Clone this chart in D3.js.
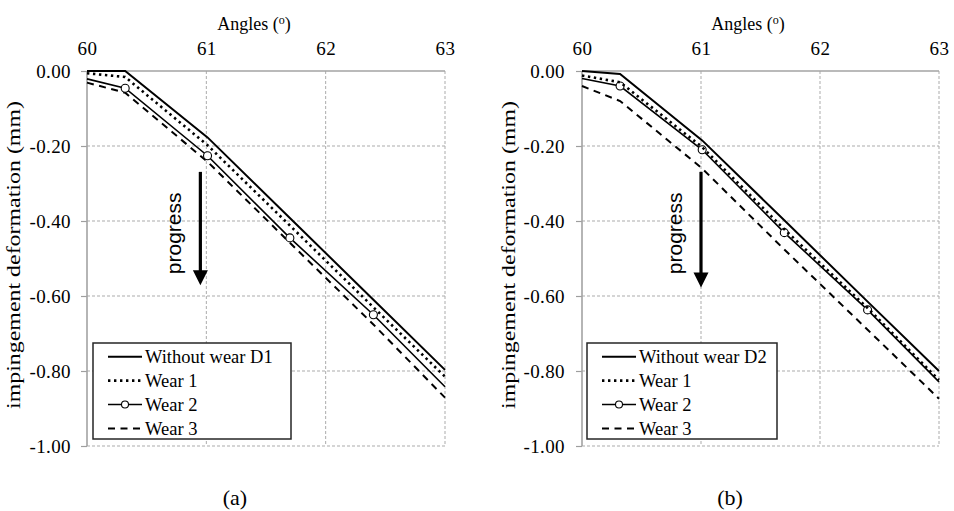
<!DOCTYPE html>
<html>
<head>
<meta charset="utf-8">
<script src="https://cdn.jsdelivr.net/npm/d3@7"></script>
<style>
  html, body { margin: 0; padding: 0; background: #fff; }
  svg { display: block; }
</style>
</head>
<body>
<svg id="chart" width="954" height="511" font-family="Liberation Serif, Times New Roman, serif"></svg>
<script>
// Angle samples (degrees) shared by every series
const angles = [60, 60.32, 61.01, 61.70, 62.40, 63];
// Angles where the "Wear 2" series carries a circle marker
const markedAngles = [60.32, 61.01, 61.70, 62.40];

const xTicks = [60, 61, 62, 63];
const yTicks = [0, -0.2, -0.4, -0.6, -0.8, -1.0];

// Panel (a): deformation in mm
const withoutWearD1 = [0.000, 0.000, -0.177, -0.392, -0.610, -0.797];
const wear1A = [-0.006, -0.016, -0.198, -0.412, -0.630, -0.815];
const wear2A = [-0.021, -0.046, -0.226, -0.445, -0.650, -0.842];
const wear3A = [-0.031, -0.058, -0.242, -0.458, -0.676, -0.871];

// Panel (b): deformation in mm
const withoutWearD2 = [0.000, -0.008, -0.185, -0.398, -0.615, -0.800];
const wear1B = [-0.012, -0.030, -0.203, -0.422, -0.632, -0.824];
const wear2B = [-0.020, -0.040, -0.210, -0.431, -0.637, -0.829];
const wear3B = [-0.040, -0.080, -0.260, -0.476, -0.690, -0.874];

const legendA = ["Without wear D1", "Wear 1", "Wear 2", "Wear 3"];
const legendB = ["Without wear D2", "Wear 1", "Wear 2", "Wear 3"];

// "progress" arrow, in data units: [angle, start, end]
const arrowA = [60.95, -0.269, -0.571];
const arrowB = [61.00, -0.269, -0.577];

const svg = d3.select("#chart");

// Line styles per series (same order as legend entries)
const styles = [
  { dash: null, width: 2.0, marker: false },
  { dash: "2.4,3.6", width: 2.6, marker: false },
  { dash: null, width: 1.6, marker: true },
  { dash: "7,5.5", width: 2.0, marker: false }
];

const SERIF = "Liberation Serif, Times New Roman, serif";
// plain hyphen for negative values, two decimals
const fmtY = d => (d < 0 ? "-" : "") + Math.abs(d).toFixed(2);

function drawPanel(cfg) {
  const g = svg.append("g");
  const x = d3.scaleLinear().domain([60, 63]).range([cfg.left, cfg.right]);
  const y = d3.scaleLinear().domain([0, -1]).range([71, 446]);

  // grid
  g.append("g").selectAll("line").data(xTicks.slice(1)).join("line")
    .attr("x1", d => x(d)).attr("x2", d => x(d))
    .attr("y1", y(0)).attr("y2", y(-1))
    .attr("stroke", "#ababab").attr("stroke-width", 1).attr("stroke-dasharray", "3,2");
  g.append("g").selectAll("line").data(yTicks.slice(1)).join("line")
    .attr("x1", x(60)).attr("x2", x(63))
    .attr("y1", d => y(d)).attr("y2", d => y(d))
    .attr("stroke", "#ababab").attr("stroke-width", 1).attr("stroke-dasharray", "3,2");

  // axes
  const yAxis = d3.axisLeft(y).tickValues(yTicks).tickSize(6).tickFormat(fmtY);
  const ya = g.append("g").attr("transform", `translate(${x(60)},0)`).call(yAxis);
  ya.select(".domain").remove();
  ya.selectAll(".tick line").attr("stroke", "#9e9e9e").attr("stroke-width", 1.2);
  ya.selectAll(".tick text").attr("x", -(x(60) - cfg.yLabelRight))
    .attr("font-family", SERIF).attr("font-size", 19).attr("fill", "#000")
    .attr("letter-spacing", "0.4px");

  const xAxis = d3.axisTop(x).tickValues(xTicks).tickSize(0).tickFormat(d3.format("d"));
  const xa = g.append("g").attr("transform", `translate(0,${y(0)})`).call(xAxis);
  xa.select(".domain").remove();
  xa.selectAll(".tick text").attr("y", -16)
    .attr("font-family", SERIF).attr("font-size", 19).attr("fill", "#000")
    .attr("letter-spacing", "0.4px");

  g.append("line").attr("x1", x(60)).attr("x2", x(60)).attr("y1", y(0)).attr("y2", y(-1))
    .attr("stroke", "#a3a3a3").attr("stroke-width", 1.6);
  g.append("line").attr("x1", x(60)).attr("x2", x(63)).attr("y1", y(0)).attr("y2", y(0))
    .attr("stroke", "#a3a3a3").attr("stroke-width", 1.6);

  // axis titles
  const t = g.append("text").attr("x", cfg.xTitleX).attr("y", 30)
    .attr("text-anchor", "middle").attr("font-size", 18);
  t.append("tspan").text("Angles (");
  t.append("tspan").attr("font-size", 12).attr("dy", -6).text("o");
  t.append("tspan").attr("dy", 6).text(")");

  g.append("text")
    .attr("transform", `translate(${cfg.yTitleX},255) rotate(-90)`)
    .attr("text-anchor", "middle").attr("font-size", 19)
    .attr("textLength", 308).attr("lengthAdjust", "spacingAndGlyphs")
    .text("impingement deformation (mm)");

  // series
  const line = d3.line().x(d => x(d[0])).y(d => y(d[1]));
  const order = [3, 2, 1, 0];
  order.forEach(i => {
    const pts = angles.map((a, k) => [a, cfg.series[i][k]]);
    const s = styles[i];
    g.append("path").datum(pts).attr("d", line)
      .attr("fill", "none").attr("stroke", "#000")
      .attr("stroke-width", s.width)
      .attr("stroke-dasharray", s.dash);
    if (s.marker) {
      g.append("g").selectAll("circle").data(pts.filter(p => markedAngles.includes(p[0]))).join("circle")
        .attr("cx", d => x(d[0])).attr("cy", d => y(d[1])).attr("r", 4)
        .attr("fill", "#fff").attr("stroke", "#000").attr("stroke-width", 1.1);
    }
  });

  // progress arrow
  const [aa, a0, a1] = cfg.arrow;
  const ax = x(aa);
  g.append("line").attr("x1", ax).attr("x2", ax).attr("y1", y(a0)).attr("y2", y(a1) - 12)
    .attr("stroke", "#000").attr("stroke-width", 3.2);
  g.append("path")
    .attr("d", `M${ax - 7.5},${y(a1) - 15} L${ax + 7.5},${y(a1) - 15} L${ax},${y(a1)} Z`)
    .attr("fill", "#000");
  g.append("text")
    .attr("transform", `translate(${ax - 19.5},${y(-0.433)}) rotate(-90)`)
    .attr("text-anchor", "middle")
    .attr("font-family", "Liberation Sans, Arial, sans-serif").attr("font-size", 21)
    .text("progress");

  // legend
  const lx = cfg.legend.x, ly = 343, lw = cfg.legend.w, lh = 96;
  const lg = g.append("g");
  lg.append("rect").attr("x", lx).attr("y", ly).attr("width", lw).attr("height", lh)
    .attr("fill", "#fff").attr("stroke", "#262626").attr("stroke-width", 1.5);
  cfg.labels.forEach((lab, i) => {
    const cy = ly + 13.7 + i * 23.9;
    const s = styles[i];
    const x0 = lx + 15, x1 = lx + 49;
    lg.append("line").attr("x1", x0).attr("x2", x1).attr("y1", cy).attr("y2", cy)
      .attr("stroke", "#000").attr("stroke-width", s.width).attr("stroke-dasharray", s.dash);
    if (s.marker) {
      lg.append("circle").attr("cx", (x0 + x1) / 2).attr("cy", cy).attr("r", 3.5)
        .attr("fill", "#fff").attr("stroke", "#000").attr("stroke-width", 1.1);
    }
    lg.append("text").attr("x", lx + 52).attr("y", cy + 6.5)
      .attr("font-size", 18.5).text(lab);
  });

  // caption
  g.append("text").attr("x", cfg.captionX).attr("y", 505)
    .attr("text-anchor", "middle").attr("font-size", 22).text(cfg.caption);
}

drawPanel({
  left: 87, right: 445, yLabelRight: 71, xTitleX: 254, yTitleX: 20,
  series: [withoutWearD1, wear1A, wear2A, wear3A],
  labels: legendA, legend: { x: 93, w: 198 }, arrow: arrowA,
  caption: "(a)", captionX: 235
});
drawPanel({
  left: 582, right: 939, yLabelRight: 565, xTitleX: 748, yTitleX: 515,
  series: [withoutWearD2, wear1B, wear2B, wear3B],
  labels: legendB, legend: { x: 587, w: 190 }, arrow: arrowB,
  caption: "(b)", captionX: 730
});
</script>
</body>
</html>
